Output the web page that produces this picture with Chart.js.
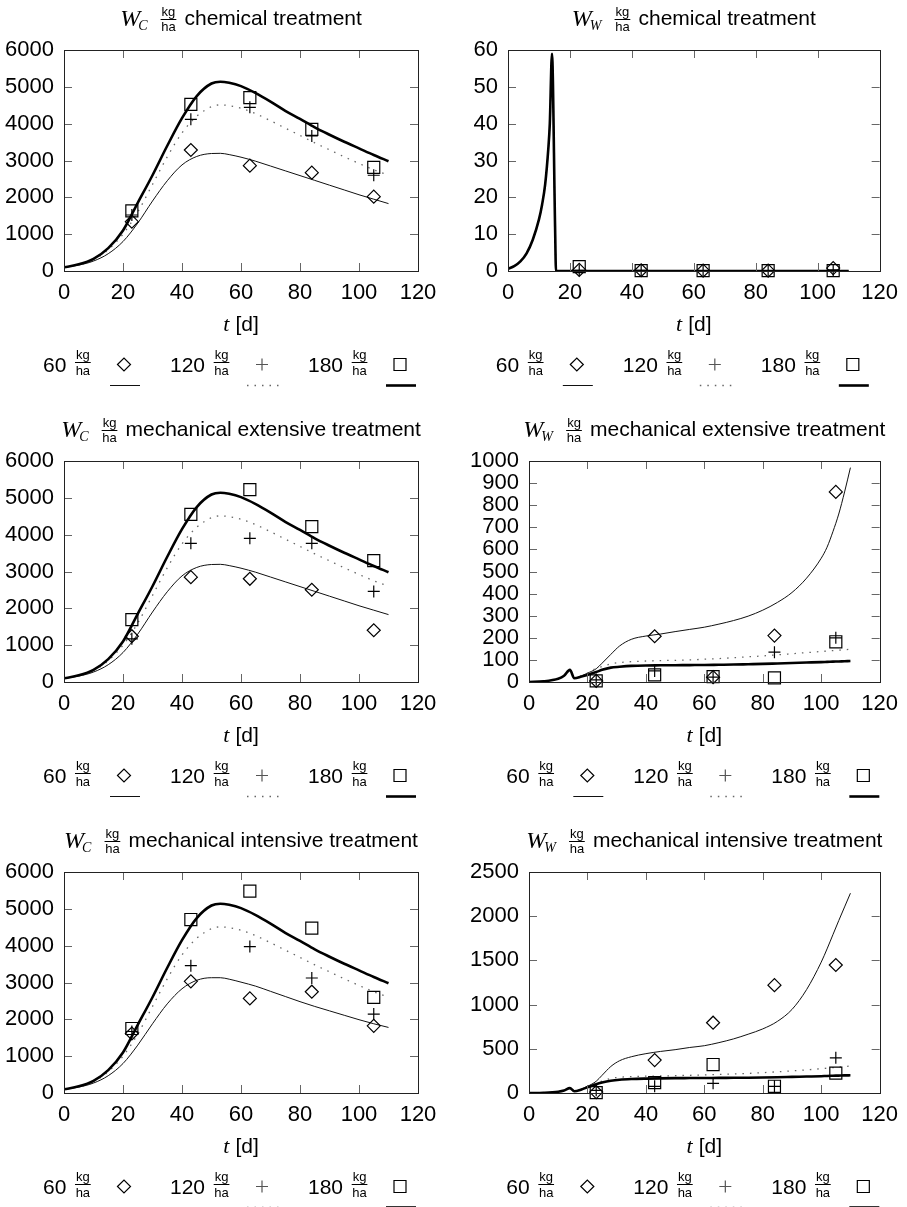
<!DOCTYPE html>
<html>
<head>
<meta charset="utf-8">
<script src="https://cdn.jsdelivr.net/npm/chart.js@4.4.1/dist/chart.umd.min.js"></script>
<style>
html, body { margin: 0; padding: 0; background: #fff; overflow: hidden; width: 907px; height: 1207px; }
canvas { position: absolute; }
</style>
</head>
<body>
<canvas id="c1" width="453" height="411" style="left:0px;top:0px"></canvas>
<canvas id="c2" width="454" height="411" style="left:453px;top:0px"></canvas>
<canvas id="c3" width="453" height="411" style="left:0px;top:411px"></canvas>
<canvas id="c4" width="454" height="411" style="left:453px;top:411px"></canvas>
<canvas id="c5" width="453" height="411" style="left:0px;top:822px"></canvas>
<canvas id="c6" width="454" height="411" style="left:453px;top:822px"></canvas>
<script>
// ---------- tick labels / categories ----------
const X_TICKS = [0, 20, 40, 60, 80, 100, 120];
const Y_TICKS_WC = [0, 1000, 2000, 3000, 4000, 5000, 6000];
const Y_TICKS_WW_CHEM = [0, 10, 20, 30, 40, 50, 60];
const Y_TICKS_WW_EXT = [0, 100, 200, 300, 400, 500, 600, 700, 800, 900, 1000];
const Y_TICKS_WW_INT = [0, 500, 1000, 1500, 2000, 2500];
const LEGEND_LABELS = ['60', '120', '180'];
const TREATMENTS = ['chemical treatment', 'mechanical extensive treatment', 'mechanical intensive treatment'];
const X_LABEL_VAR = 't';
const X_LABEL_UNIT = '[d]';

// ---------- observations (t in days) ----------
const T_OBS = [23, 43, 63, 84, 105];

const WC_CHEM_60  = [1340, 3285, 2860, 2670, 2018];
const WC_CHEM_120 = [1520, 4118, 4443, 3665, 2600];
const WC_CHEM_180 = [1630, 4525, 4706, 3846, 2814];

const WW_CHEM_60  = [0.3, 0.2, 0.1, 0.1, 0.8];
const WW_CHEM_120 = [0.2, 0.2, 0.1, 0.1, 0.3];
const WW_CHEM_180 = [1.2, 0.1, 0.1, 0.1, 0.1];

const WC_EXT_60  = [1243, 2847, 2802, 2505, 1405];
const WC_EXT_120 = [1171, 3766, 3901, 3766, 2459];
const WC_EXT_180 = [1694, 4550, 5225, 4216, 3297];

const WW_EXT_60  = [5, 207, 22, 210, 860];
const WW_EXT_120 = [10, 50, 22, 135, 200];
const WW_EXT_180 = [5, 32, 24, 19, 182];

const WC_INT_60  = [1615, 3031, 2568, 2750, 1824];
const WC_INT_120 = [1670, 3457, 3975, 3122, 2142];
const WC_INT_180 = [1751, 4710, 5481, 4474, 2595];

const WW_INT_60  = [10, 372, 795, 1220, 1448];
const WW_INT_120 = [30, 76, 110, 76, 398];
const WW_INT_180 = [5, 118, 322, 76, 224];

// ---------- model curves ----------
const T_WC = [0, 5, 10, 15, 20, 25, 30, 35, 40, 45, 50, 53, 56, 60, 65, 70, 75, 80, 85, 90, 95, 100, 105, 110];
const WC_MODEL_60     = [100, 160, 270, 470, 800, 1300, 1900, 2450, 2880, 3110, 3190, 3195, 3160, 3090, 2980, 2850, 2720, 2590, 2460, 2330, 2200, 2070, 1950, 1830];
const WC_MODEL_60_INT = [100, 160, 270, 470, 800, 1300, 1880, 2420, 2830, 3060, 3130, 3130, 3090, 3010, 2900, 2760, 2620, 2480, 2350, 2230, 2110, 1990, 1880, 1780];
const WC_MODEL_120    = [100, 175, 310, 580, 1000, 1600, 2350, 3100, 3750, 4200, 4460, 4510, 4490, 4420, 4270, 4080, 3880, 3680, 3480, 3290, 3100, 2920, 2750, 2600];
const WC_MODEL_180    = [100, 180, 330, 620, 1100, 1850, 2600, 3400, 4150, 4750, 5090, 5140, 5110, 5020, 4830, 4600, 4350, 4130, 3900, 3700, 3510, 3330, 3150, 2980];

const T_WW_CHEM = [0, 2, 4, 6, 8, 10, 11, 12, 13, 13.5, 14.2, 15.2, 15.5, 20, 40, 60, 80, 100, 110];
const WW_CHEM_MODEL = [0.6, 1.3, 2.6, 4.8, 8.5, 14, 18, 23.5, 33, 40, 59, 12, 0, 0, 0, 0, 0, 0, 0];

const T_WW = [0, 5, 10, 12, 14, 15.5, 18, 20, 23, 25, 28, 31, 35, 40, 45, 50, 55, 60, 65, 70, 75, 80, 85, 90, 95, 100, 102, 104, 106, 108, 110];
const WW_EXT_MODEL_60  = [0, 3, 15, 28, 55, 17, 28, 40, 60, 85, 125, 163, 193, 208, 217, 228, 238, 248, 262, 278, 298, 325, 360, 405, 470, 560, 610, 680, 760, 860, 970];
const WW_EXT_MODEL_120 = [0, 3, 15, 28, 55, 17, 28, 40, 62, 70, 82, 88, 92, 95, 97, 98, 100, 103, 106, 110, 114, 118, 123, 128, 133, 138, 140, 142, 144, 146, 148];
const WW_EXT_MODEL_180 = [0, 3, 15, 28, 55, 17, 25, 32, 45, 55, 65, 69, 73, 75, 75.5, 76, 76.5, 77, 78, 79, 80.5, 82, 84, 86, 88, 90, 91, 92, 93, 94, 95];
const WW_INT_MODEL_60  = [0, 3, 15, 28, 55, 20, 45, 75, 133, 200, 300, 365, 410, 445, 470, 490, 515, 535, 570, 612, 665, 725, 810, 945, 1170, 1480, 1630, 1790, 1950, 2105, 2260];
const WW_INT_MODEL_120 = [0, 3, 15, 28, 55, 20, 45, 70, 110, 135, 165, 178, 185, 190, 193, 196, 200, 205, 210, 215, 222, 230, 240, 250, 262, 275, 281, 287, 293, 299, 305];
const WW_INT_MODEL_180 = [0, 3, 15, 28, 55, 20, 40, 65, 100, 118, 138, 150, 158, 163, 166, 168, 169, 170, 171, 172, 173, 175, 178, 182, 186, 190, 193, 195, 197, 199, 200];

// ---------- panels ----------
const PANELS = [
  { id: 'c1', sub: 'C', title: TREATMENTS[0], yTicks: Y_TICKS_WC, left: 64, right: 418,
    obs: [WC_CHEM_60, WC_CHEM_120, WC_CHEM_180], tm: T_WC, model: [WC_MODEL_60, WC_MODEL_120, WC_MODEL_180] },
  { id: 'c2', sub: 'W', title: TREATMENTS[0], yTicks: Y_TICKS_WW_CHEM, left: 55, right: 429,
    obs: [WW_CHEM_60, WW_CHEM_120, WW_CHEM_180], tm: T_WW_CHEM, model: [WW_CHEM_MODEL, WW_CHEM_MODEL, WW_CHEM_MODEL] },
  { id: 'c3', sub: 'C', title: TREATMENTS[1], yTicks: Y_TICKS_WC, left: 64, right: 418,
    obs: [WC_EXT_60, WC_EXT_120, WC_EXT_180], tm: T_WC, model: [WC_MODEL_60, WC_MODEL_120, WC_MODEL_180] },
  { id: 'c4', sub: 'W', title: TREATMENTS[1], yTicks: Y_TICKS_WW_EXT, left: 76, right: 429,
    obs: [WW_EXT_60, WW_EXT_120, WW_EXT_180], tm: T_WW, model: [WW_EXT_MODEL_60, WW_EXT_MODEL_120, WW_EXT_MODEL_180] },
  { id: 'c5', sub: 'C', title: TREATMENTS[2], yTicks: Y_TICKS_WC, left: 64, right: 418,
    obs: [WC_INT_60, WC_INT_120, WC_INT_180], tm: T_WC, model: [WC_MODEL_60_INT, WC_MODEL_120, WC_MODEL_180] },
  { id: 'c6', sub: 'W', title: TREATMENTS[2], yTicks: Y_TICKS_WW_INT, left: 76, right: 429,
    obs: [WW_INT_60, WW_INT_120, WW_INT_180], tm: T_WW, model: [WW_INT_MODEL_60, WW_INT_MODEL_120, WW_INT_MODEL_180] }
];

const SANS = '"Liberation Sans", Arial, Helvetica, sans-serif';
const SERIF = '"Liberation Serif", "Times New Roman", serif';
const H = 411, PLOT_TOP = 50, PLOT_BOTTOM = 271, XAXIS_H = 40;

const POINT_STYLES = ['rectRot', 'cross', 'rect'];
const POINT_RADII = [6.5, 6, 8.5];
const LINE_STYLES = [
  { color: '#111', width: 1, dash: [] },
  { color: '#666', width: 1.3, dash: [1.5, 6] },
  { color: '#000', width: 2.6, dash: [] }
];

function pairs(xs, ys) { return xs.map((x, i) => ({ x: x, y: ys[i] })); }

function drawFrac(ctx, cx, kgBase, barY, haBase) {
  ctx.font = '13px ' + SANS;
  ctx.textAlign = 'center';
  ctx.textBaseline = 'alphabetic';
  ctx.fillText('kg', cx, kgBase);
  const w = ctx.measureText('kg').width;
  ctx.beginPath();
  ctx.lineWidth = 1;
  ctx.moveTo(cx - w / 2 - 1, barY + 0.5);
  ctx.lineTo(cx + w / 2 + 1, barY + 0.5);
  ctx.stroke();
  ctx.fillText('ha', cx, haBase);
  ctx.textAlign = 'left';
}

function drawMarker(ctx, k, x, y) {
  ctx.beginPath();
  ctx.lineWidth = 1.2;
  if (k === 0) {
    ctx.moveTo(x - 6.5, y); ctx.lineTo(x, y - 6.5); ctx.lineTo(x + 6.5, y); ctx.lineTo(x, y + 6.5); ctx.closePath();
  } else if (k === 1) {
    ctx.moveTo(x - 6, y); ctx.lineTo(x + 6, y); ctx.moveTo(x, y - 6); ctx.lineTo(x, y + 6);
  } else {
    ctx.rect(x - 6, y - 6, 12, 12);
  }
  ctx.stroke();
}

function decor(p) {
  return {
    id: 'decor',
    afterDraw(chart) {
      const ctx = chart.ctx, a = chart.chartArea, xs = chart.scales.x, ys = chart.scales.y;
      const c = (a.left + a.right) / 2;
      ctx.save();
      // inward ticks on all four sides
      ctx.strokeStyle = '#666';
      ctx.lineWidth = 1;
      ctx.beginPath();
      X_TICKS.forEach(v => {
        const x = Math.round(xs.getPixelForValue(v)) + 0.5;
        ctx.moveTo(x, a.bottom); ctx.lineTo(x, a.bottom - 8);
        ctx.moveTo(x, a.top); ctx.lineTo(x, a.top + 8);
      });
      p.yTicks.forEach(v => {
        const y = Math.round(ys.getPixelForValue(v)) + 0.5;
        ctx.moveTo(a.left, y); ctx.lineTo(a.left + 8, y);
        ctx.moveTo(a.right, y); ctx.lineTo(a.right - 8, y);
      });
      ctx.stroke();
      // frame
      ctx.strokeStyle = '#222';
      ctx.strokeRect(Math.round(a.left) + 0.5, Math.round(a.top) + 0.5, Math.round(a.right - a.left), Math.round(a.bottom - a.top));

      ctx.fillStyle = '#000';
      ctx.strokeStyle = '#000';
      // title
      ctx.font = 'italic 24px ' + SERIF;
      const wW = ctx.measureText('W').width;
      ctx.font = 'italic 14px ' + SERIF;
      const wS = ctx.measureText(p.sub).width;
      ctx.font = '21px ' + SANS;
      const wT = ctx.measureText(p.title).width;
      const total = wW - 2 + wS + 13 + 16 + 8 + wT;
      let x0 = c - total / 2;
      ctx.textAlign = 'left';
      ctx.textBaseline = 'alphabetic';
      ctx.font = 'italic 24px ' + SERIF;
      ctx.fillText('W', x0, 26);
      ctx.font = 'italic 14px ' + SERIF;
      ctx.fillText(p.sub, x0 + wW - 2, 30);
      const fx = x0 + wW - 2 + wS + 13 + 8;
      drawFrac(ctx, fx, 16, 19, 30.5);
      ctx.font = '21px ' + SANS;
      ctx.fillText(p.title, fx + 8 + 8, 25);

      // x axis label
      ctx.font = 'italic 22px ' + SERIF;
      const wt = ctx.measureText(X_LABEL_VAR).width;
      ctx.font = '21px ' + SANS;
      const wd = ctx.measureText(X_LABEL_UNIT).width;
      const xl = c - (wt + 6 + wd) / 2;
      ctx.font = 'italic 22px ' + SERIF;
      ctx.fillText(X_LABEL_VAR, xl, 331);
      ctx.font = '21px ' + SANS;
      ctx.fillText(X_LABEL_UNIT, xl + wt + 6, 331);

      // legend
      const textStarts = [c - 198, c - 71, c + 67];
      const markerX = [c - 117, c + 21, c + 159];
      const lineX = [[c - 131, c - 101], [c + 6, c + 39], [c + 145, c + 175]];
      for (let k = 0; k < 3; k++) {
        ctx.font = '21px ' + SANS;
        ctx.fillStyle = '#000';
        ctx.fillText(LEGEND_LABELS[k], textStarts[k], 372);
        const tw = ctx.measureText(LEGEND_LABELS[k]).width;
        ctx.strokeStyle = '#000';
        drawFrac(ctx, textStarts[k] + tw + 16.5, 359, 362, 375);
        ctx.strokeStyle = k === 1 ? '#555' : '#000';
        drawMarker(ctx, k, markerX[k], 364.5);
        const ls = LINE_STYLES[k];
        ctx.beginPath();
        ctx.strokeStyle = ls.color;
        ctx.lineWidth = ls.width;
        ctx.setLineDash(ls.dash);
        ctx.moveTo(lineX[k][0], 385.5);
        ctx.lineTo(lineX[k][1], 385.5);
        ctx.stroke();
        ctx.setLineDash([]);
      }
      ctx.restore();
    }
  };
}

PANELS.forEach(p => {
  const canvas = document.getElementById(p.id);
  const W = canvas.width;
  const datasets = [];
  for (let k = 0; k < 3; k++) {
    datasets.push({
      data: pairs(T_OBS, p.obs[k]),
      showLine: false,
      pointStyle: POINT_STYLES[k],
      pointRadius: POINT_RADII[k],
      pointBorderWidth: 1.2,
      pointBorderColor: '#000',
      pointBackgroundColor: 'rgba(0,0,0,0)',
      clip: false
    });
  }
  for (let k = 2; k >= 0; k--) {
    const ls = LINE_STYLES[k];
    datasets.push({
      data: pairs(p.tm, p.model[k]),
      showLine: true,
      pointRadius: 0,
      borderColor: ls.color,
      borderWidth: ls.width,
      borderDash: ls.dash,
      cubicInterpolationMode: 'monotone',
      fill: false
    });
  }
  const yMax = p.yTicks[p.yTicks.length - 1];
  new Chart(canvas, {
    type: 'scatter',
    data: { datasets: datasets },
    options: {
      responsive: false,
      animation: false,
      events: [],
      layout: { padding: { top: PLOT_TOP, left: 0, right: W - p.right, bottom: H - PLOT_BOTTOM - XAXIS_H } },
      plugins: { legend: { display: false }, tooltip: { enabled: false }, title: { display: false } },
      scales: {
        x: {
          type: 'linear', min: 0, max: 120,
          grid: { display: false, drawTicks: false },
          border: { display: false },
          afterBuildTicks: s => { s.ticks = X_TICKS.map(v => ({ value: v })); },
          afterFit: s => { s.height = XAXIS_H; },
          ticks: { autoSkip: false, maxRotation: 0, padding: 9, color: '#000', font: { family: SANS, size: 22 },
                   callback: v => String(v) }
        },
        y: {
          type: 'linear', min: 0, max: yMax,
          grid: { display: false, drawTicks: false },
          border: { display: false },
          afterBuildTicks: s => { s.ticks = p.yTicks.map(v => ({ value: v })); },
          afterFit: s => { s.width = p.left; },
          ticks: { autoSkip: false, padding: 10, color: '#000', font: { family: SANS, size: 22 },
                   callback: v => String(v) }
        }
      }
    },
    plugins: [decor(p)]
  });
});
</script>
</body>
</html>
